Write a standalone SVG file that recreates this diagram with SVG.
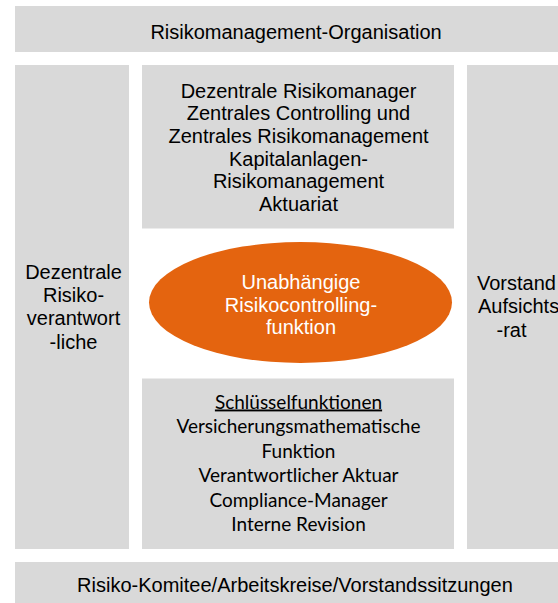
<svg xmlns="http://www.w3.org/2000/svg" width="558" height="603" viewBox="0 0 558 603">
<style>
.box{fill:#d9d9d9}
.t{font-family:"Liberation Sans",Arial,sans-serif;font-size:20px;fill:#000;text-anchor:middle}
.r{font-family:"Liberation Sans",Arial,sans-serif;font-size:20px;fill:#000}
.c{font-family:Lato,"Open Sans",sans-serif;font-size:19px;fill:#000;text-anchor:middle}
.w{font-family:"Liberation Sans",Arial,sans-serif;font-size:20px;fill:#fff;text-anchor:middle}
</style>
<rect width="558" height="603" fill="#fff"/>
<g id="top">
<rect class="box" x="15" y="6" width="548" height="46"/>
<text class="t" x="296" y="38.5">Risikomanagement-Organisation</text>
</g>
<g id="left">
<rect class="box" x="15" y="65" width="114" height="484"/>
<text class="t" x="73.5" y="278.5">Dezentrale</text>
<text class="t" x="73.5" y="302">Risiko-</text>
<text class="t" x="73.5" y="325">verantwort</text>
<text class="t" x="73.5" y="348.5">-liche</text>
</g>
<g id="topmid">
<rect class="box" x="142" y="65" width="312" height="163.5"/>
<text class="t" x="298.5" y="97.5">Dezentrale Risikomanager</text>
<text class="t" x="298.5" y="120.2">Zentrales Controlling und</text>
<text class="t" x="298.5" y="143">Zentrales Risikomanagement</text>
<text class="t" x="298.5" y="165.7">Kapitalanlagen-</text>
<text class="t" x="298.5" y="188.3">Risikomanagement</text>
<text class="t" x="298.5" y="211">Aktuariat</text>
</g>
<g id="right">
<rect class="box" x="467" y="65" width="100" height="484"/>
<text class="r" x="477" y="290">Vorstand</text>
<text class="r" x="478" y="313">Aufsichts</text>
<text class="r" x="496.5" y="336.5">-rat</text>
</g>
<g id="center">
<ellipse cx="300.5" cy="302.5" rx="151.5" ry="60.5" fill="#e4640f"/>
<text class="w" x="301" y="289.3">Unabhängige</text>
<text class="w" x="301" y="311.7">Risikocontrolling-</text>
<text class="w" x="301" y="334">funktion</text>
</g>
<g id="bottommid">
<rect class="box" x="142" y="378.5" width="312" height="170.5"/>
<text class="c" x="298.5" y="408.5" text-decoration="underline">Schlüsselfunktionen</text>
<text class="c" x="298.5" y="433">Versicherungsmathematische</text>
<text class="c" x="298.5" y="457.5">Funktion</text>
<text class="c" x="298.5" y="482">Verantwortlicher Aktuar</text>
<text class="c" x="298.5" y="506.5">Compliance-Manager</text>
<text class="c" x="298.5" y="531">Interne Revision</text>
</g>
<g id="bottom">
<rect class="box" x="15" y="562" width="548" height="50"/>
<text class="t" x="295" y="591.7">Risiko-Komitee/Arbeitskreise/Vorstandssitzungen</text>
</g>
<g id="connectors"></g>
</svg>
